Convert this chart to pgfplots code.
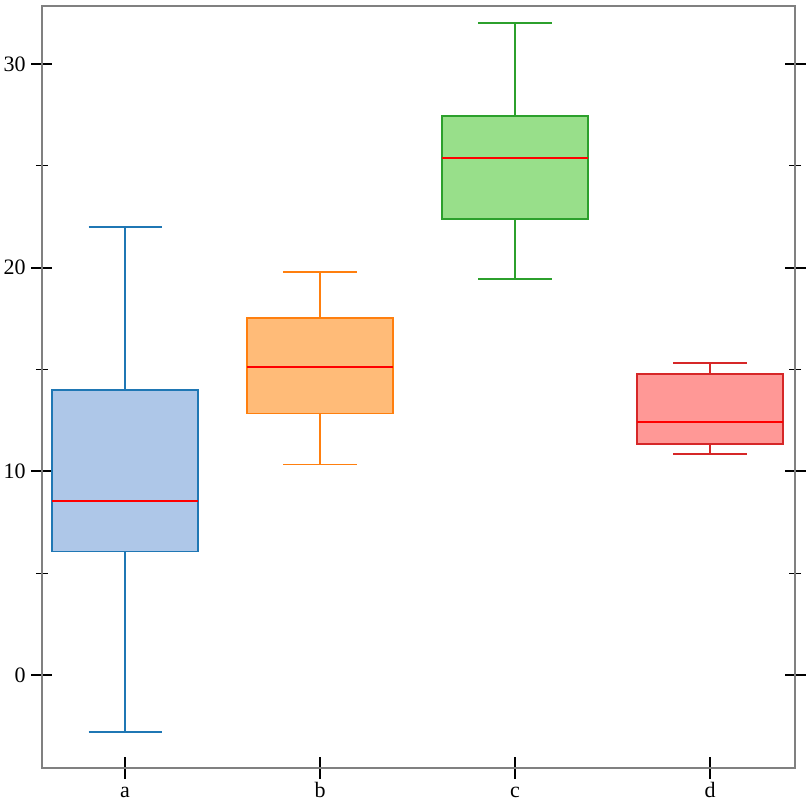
\documentclass[border=0pt]{standalone}
\usepackage{fontspec}
\setmainfont{Liberation Serif}
\usepackage{pgfplots}
\pgfplotsset{compat=1.18}
\usepgfplotslibrary{statistics}
\definecolor{ca}{HTML}{1F77B4}\definecolor{fa}{HTML}{AEC7E8}
\definecolor{cb}{HTML}{FF7F0E}\definecolor{fb}{HTML}{FFBB78}
\definecolor{cc}{HTML}{2CA02C}\definecolor{fc}{HTML}{98DF8A}
\definecolor{cd}{HTML}{D62728}\definecolor{fd}{HTML}{FF9896}
\pgfplotsset{
    bx/.style n args={2}{draw=#1, fill=#2, line width=0.8pt, solid,
        boxplot/every box/.style={draw=#1, fill=#2, line width=0.8pt},
        boxplot/every whisker/.style={draw=#1, line width=0.8pt},
        boxplot/every median/.style={draw=red, line width=1pt}},
}
\begin{document}
\fontsize{10.5}{12}\selectfont
\begin{tikzpicture}
\begin{axis}[
    scale only axis,
    width=376.5pt, height=381pt,
    xmin=0.574, xmax=4.436,
    ymin=-4.566, ymax=32.85,
    xtick={1,2,3,4},
    xticklabels={a,b,c,d},
    xtick pos=bottom,
    ytick={0,10,20,30},
    minor ytick={5,15,25},
    ytick pos=both,
    tick align=center,
    major tick length=10.5pt,
    minor tick length=6pt,
    every major tick/.style={black, line width=1pt},
    every minor tick/.style={black, line width=0.5pt},
    axis line style={draw=gray, line width=1pt},
    /pgf/number format/assume math mode=true,
    ticklabel style={font=\fontsize{11}{12}\selectfont},
    xticklabel style={text height=1.5ex, text depth=0.25ex, yshift=1.5pt},
    yticklabel style={xshift=0.8pt},
    boxplot/draw direction=y,
    boxplot/box extend=0.75,
    boxplot/whisker extend=0.375,
]
\addplot[bx={ca}{fa}, boxplot prepared={
    draw position=1, lower whisker=-2.80, lower quartile=6.07,
    median=8.55, upper quartile=13.98, upper whisker=21.99}] coordinates {};
\addplot[bx={cb}{fb}, boxplot prepared={
    draw position=2, lower whisker=10.34, lower quartile=12.85,
    median=15.11, upper quartile=17.52, upper whisker=19.78}] coordinates {};
\addplot[bx={cc}{fc}, boxplot prepared={
    draw position=3, lower whisker=19.43, lower quartile=22.38,
    median=25.38, upper quartile=27.44, upper whisker=32.01}] coordinates {};
\addplot[bx={cd}{fd}, boxplot prepared={
    draw position=4, lower whisker=10.84, lower quartile=11.33,
    median=12.41, upper quartile=14.77, upper whisker=15.31}] coordinates {};
\end{axis}
\pgfresetboundingbox
\path[use as bounding box] ([shift={(-21pt,-22pt)}]current axis.south west) rectangle ([shift={(8.5pt,3pt)}]current axis.north east);
\end{tikzpicture}
\end{document}
